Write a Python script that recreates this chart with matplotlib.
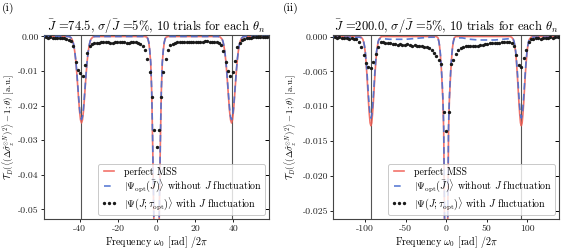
import matplotlib
matplotlib.use("Agg")
import matplotlib.pyplot as plt

plt.rcParams['font.family'] = 'serif'
plt.rcParams['font.serif'] = ['cmr10', 'DejaVu Serif']
plt.rcParams['mathtext.fontset'] = 'cm'
plt.rcParams['axes.unicode_minus'] = False
plt.rcParams['axes.formatter.use_mathtext'] = True

# ---------------- panel (i) data ----------------
title_i = r'$\bar{J}$ =74.5, $\sigma/\bar{J}$ =5%, 10 trials for each $\theta_n$'
vlines_i = [-39, 39]
xlim_i = (-58.5, 58.5)
ylim_i = (-0.0528, 0.0004)
yticks_i = [0.0, -0.01, -0.02, -0.03, -0.04, -0.05]
xticks_i = [-40, -20, 0, 20, 40]

line_x_i = [-58.5,
            -46, -45, -44, -43.5, -43, -42.5, -42, -41.5, -41, -40.5, -40, -39.5, -39,
            -38.5, -38, -37.5, -37, -36.5, -36, -35.5, -35, -34.5, -34, -33, -32,
            -7, -6, -5, -4.5, -4, -3.5, -3, -2.5, -2, -1.5, -1, -0.5, 0,
            0.5, 1, 1.5, 2, 2.5, 3, 3.5, 4, 4.5, 5, 6, 7,
            32, 33, 34, 34.5, 35, 35.5, 36, 36.5, 37, 37.5, 38, 38.5, 39,
            39.5, 40, 40.5, 41, 41.5, 42, 42.5, 43, 43.5, 44, 45, 46,
            58.5]
perfect_i = [0.0,
             0, -0.0001, -0.0007, -0.0014, -0.0026, -0.0044, -0.0069, -0.0102, -0.0141, -0.0181, -0.0217, -0.0241, -0.0250,
             -0.0241, -0.0217, -0.0181, -0.0141, -0.0102, -0.0069, -0.0044, -0.0026, -0.0014, -0.0007, -0.0001, 0,
             0, 0, -0.0002, -0.0007, -0.0018, -0.0042, -0.0078, -0.0160, -0.0310, -0.0490, -0.0680, -0.0840, -0.0900,
             -0.0840, -0.0680, -0.0490, -0.0310, -0.0160, -0.0078, -0.0042, -0.0018, -0.0007, -0.0002, 0, 0,
             0, -0.0001, -0.0007, -0.0014, -0.0026, -0.0044, -0.0069, -0.0102, -0.0141, -0.0181, -0.0217, -0.0241, -0.0250,
             -0.0241, -0.0217, -0.0181, -0.0141, -0.0102, -0.0069, -0.0044, -0.0026, -0.0014, -0.0007, -0.0001, 0,
             0.0]
nofluct_i = [0.0,
             0, -0.0001, -0.0006, -0.0013, -0.0025, -0.0043, -0.0067, -0.0099, -0.0136, -0.0174, -0.0209, -0.0232, -0.0240,
             -0.0232, -0.0209, -0.0174, -0.0136, -0.0099, -0.0067, -0.0043, -0.0025, -0.0013, -0.0006, -0.0001, 0,
             0, 0, -0.0002, -0.0006, -0.0017, -0.0040, -0.0075, -0.0155, -0.0300, -0.0480, -0.0670, -0.0820, -0.0880,
             -0.0820, -0.0670, -0.0480, -0.0300, -0.0155, -0.0075, -0.0040, -0.0017, -0.0006, -0.0002, 0, 0,
             0, -0.0001, -0.0006, -0.0013, -0.0025, -0.0043, -0.0067, -0.0099, -0.0136, -0.0174, -0.0209, -0.0232, -0.0240,
             -0.0232, -0.0209, -0.0174, -0.0136, -0.0099, -0.0067, -0.0043, -0.0025, -0.0013, -0.0006, -0.0001, 0,
             0.0]

dots_x_i = [-57.6, -56.4, -55.2, -54.0, -52.8, -51.6, -50.4, -49.2, -48.0, -46.8,
            -45.6, -44.4, -43.2, -42.0, -40.8, -39.6, -38.4, -37.2, -36.0, -34.8,
            -33.6, -32.4, -31.2, -30.0, -28.8, -27.6, -26.4, -25.2, -24.0, -22.8,
            -21.6, -20.4, -19.2, -18.0, -16.8, -15.6, -14.4, -13.2, -12.0, -10.8,
            -9.6, -8.4, -7.2, -6.0, -4.8, -3.6, -2.4, -1.2, 0.0,
            1.2, 2.4, 3.6, 4.8, 6.0, 7.2, 8.4, 9.6, 10.8, 12.0,
            13.2, 14.4, 15.6, 16.8, 18.0, 19.2, 20.4, 21.6, 22.8, 24.0,
            25.2, 26.4, 27.6, 28.8, 30.0, 31.2, 32.4, 33.6, 34.8, 36.0,
            37.2, 38.4, 39.6, 40.8, 42.0, 43.2, 44.4, 45.6, 46.8, 48.0,
            49.2, 50.4, 51.6, 52.8, 54.0, 55.2, 56.4, 57.6]
dots_y_i = [-0.0002, -0.0003, -0.0002, -0.0003, -0.0003, -0.0004, -0.0003, -0.0004, -0.0005, -0.0006,
            -0.0009, -0.0014, -0.0028, -0.0075, -0.0098, -0.0106, -0.0114, -0.0082, -0.0047, -0.0027,
            -0.0022, -0.0020, -0.0019, -0.0018, -0.0017, -0.0016, -0.0016, -0.0017, -0.0018, -0.0018,
            -0.0017, -0.0016, -0.0016, -0.0016, -0.0017, -0.0018, -0.0018, -0.0017, -0.0016, -0.0017,
            -0.0019, -0.0022, -0.0028, -0.0040, -0.0066, -0.0104, -0.0175, -0.0270, -0.0320,
            -0.0270, -0.0175, -0.0102, -0.0066, -0.0038, -0.0026, -0.0021, -0.0018, -0.0017, -0.0016,
            -0.0016, -0.0017, -0.0017, -0.0016, -0.0015, -0.0015, -0.0016, -0.0017, -0.0016, -0.0015,
            -0.0014, -0.0014, -0.0015, -0.0016, -0.0016, -0.0017, -0.0020, -0.0025, -0.0043, -0.0075,
            -0.0100, -0.0114, -0.0104, -0.0072, -0.0030, -0.0018, -0.0010, -0.0006, -0.0004, -0.0003,
            -0.0003, -0.0002, -0.0002, -0.0002, -0.0001, -0.0002, -0.0002, -0.0001]

# ---------------- panel (ii) data ----------------
title_ii = r'$\bar{J}$ =200.0, $\sigma/\bar{J}$ =5%, 10 trials for each $\theta_n$'
vlines_ii = [-93, 93]
xlim_ii = (-139.5, 139.5)
ylim_ii = (-0.0262, 0.0002)
yticks_ii = [0.0, -0.005, -0.010, -0.015, -0.020, -0.025]
xticks_ii = [-100, -50, 0, 50, 100]

line_x_ii = [-139.5,
             -107, -105, -103, -102, -101, -100, -99, -98, -97, -96, -95, -94, -93,
             -92, -91, -90, -89, -88, -87, -86, -85, -84, -83, -81, -79,
             -70, -60, -50, -40, -30, -20,
             -14, -12, -10, -9, -8, -7, -6, -5, -4, -3, -2, -1, 0,
             1, 2, 3, 4, 5, 6, 7, 8, 9, 10, 12, 14,
             20, 30, 40, 50, 60, 70,
             79, 81, 83, 84, 85, 86, 87, 88, 89, 90, 91, 92, 93,
             94, 95, 96, 97, 98, 99, 100, 101, 102, 103, 105, 107,
             139.5]
perfect_ii = [0.0,
              0, -0.0001, -0.0004, -0.0008, -0.0014, -0.0023, -0.0037, -0.0054, -0.0074, -0.0094, -0.0111, -0.0124, -0.0128,
              -0.0124, -0.0111, -0.0094, -0.0074, -0.0054, -0.0037, -0.0023, -0.0014, -0.0008, -0.0004, -0.0001, 0,
              0, 0, 0, 0, 0, 0,
              0, 0, -0.0002, -0.0007, -0.0015, -0.0028, -0.0045, -0.0067, -0.0092, -0.0135, -0.0265, -0.0420, -0.0500,
              -0.0420, -0.0265, -0.0135, -0.0092, -0.0067, -0.0045, -0.0028, -0.0015, -0.0007, -0.0002, 0, 0,
              0, 0, 0, 0, 0, 0,
              0, -0.0001, -0.0004, -0.0008, -0.0014, -0.0023, -0.0037, -0.0054, -0.0074, -0.0094, -0.0111, -0.0124, -0.0128,
              -0.0124, -0.0111, -0.0094, -0.0074, -0.0054, -0.0037, -0.0023, -0.0014, -0.0008, -0.0004, -0.0001, 0,
              0.0]
nofluct_ii = [-0.0001,
              -0.0001, -0.0002, -0.0004, -0.0007, -0.0013, -0.0021, -0.0034, -0.0049, -0.0067, -0.0085, -0.0101, -0.0113, -0.0117,
              -0.0113, -0.0101, -0.0085, -0.0067, -0.0049, -0.0034, -0.0021, -0.0013, -0.0007, -0.0004, -0.0003, -0.0003,
              -0.0004, -0.0004, -0.0004, -0.0003, -0.0002, -0.0001,
              -0.0001, -0.0001, -0.0003, -0.0007, -0.0014, -0.0026, -0.0042, -0.0063, -0.0088, -0.0128, -0.0250, -0.0400, -0.0480,
              -0.0400, -0.0250, -0.0128, -0.0088, -0.0063, -0.0042, -0.0026, -0.0014, -0.0007, -0.0003, -0.0002, -0.0002,
              -0.0002, -0.0004, -0.0005, -0.0005, -0.0005, -0.0004,
              -0.0003, -0.0003, -0.0004, -0.0007, -0.0013, -0.0021, -0.0034, -0.0049, -0.0067, -0.0085, -0.0101, -0.0113, -0.0117,
              -0.0113, -0.0101, -0.0085, -0.0067, -0.0049, -0.0034, -0.0021, -0.0013, -0.0007, -0.0004, -0.0002, -0.0001,
              -0.0001]

dots_x_ii = [-138, -135, -132, -129, -126, -123, -120, -117, -114, -111,
             -108, -105, -102, -99, -96, -93, -90, -87, -84, -81,
             -78, -75, -72, -69, -66, -63, -60, -57, -54, -51,
             -48, -45, -42, -39, -36, -33, -30, -27, -24, -21,
             -18, -15, -12, -9, -6, -3, 0,
             3, 6, 9, 12, 15, 18, 21, 24, 27, 30,
             33, 36, 39, 42, 45, 48, 51, 54, 57, 60,
             63, 66, 69, 72, 75, 78, 81, 84, 87, 90,
             93, 96, 99, 102, 105, 108, 111, 114, 117, 120,
             123, 126, 129, 132, 135, 138]
dots_y_ii = [-0.0001, -0.0002, -0.0001, -0.0002, -0.0002, -0.0002, -0.0003, -0.0002, -0.0003, -0.0004,
             -0.0008, -0.0015, -0.0027, -0.0038, -0.0044, -0.0045, -0.0037, -0.0025, -0.0015, -0.0008,
             -0.0008, -0.0009, -0.0010, -0.0010, -0.0011, -0.0011, -0.0012, -0.0011, -0.0012, -0.0012,
             -0.0011, -0.0012, -0.0013, -0.0012, -0.0013, -0.0013, -0.0014, -0.0015, -0.0015, -0.0017,
             -0.0019, -0.0023, -0.0028, -0.0033, -0.0040, -0.0108, -0.0136,
             -0.0108, -0.0040, -0.0033, -0.0025, -0.0020, -0.0017, -0.0015, -0.0014, -0.0014, -0.0013,
             -0.0014, -0.0013, -0.0013, -0.0012, -0.0012, -0.0011, -0.0011, -0.0010, -0.0010, -0.0009,
             -0.0009, -0.0009, -0.0008, -0.0008, -0.0008, -0.0008, -0.0009, -0.0013, -0.0027, -0.0041,
             -0.0044, -0.0031, -0.0019, -0.0008, -0.0004, -0.0003, -0.0002, -0.0002, -0.0003, -0.0002,
             -0.0002, -0.0002, -0.0001, -0.0002, -0.0001, -0.0001]

labels = ['perfect MSS',
          r'$|\Psi_{\rm opt}(\bar{J})\rangle$ without $J$ fluctuation',
          r'$|\Psi(J;\tau_{\rm opt})\rangle$ with $J$ fluctuation']
ylabel = r'$\mathcal{T}_D(\langle(\Delta\hat{\sigma}_z^{\otimes N})^2\rangle-1;\theta)$ [a.u.]'
xlabel = r'Frequency $\omega_0$ [rad] $/2\pi$'

RED = '#f05a50'
BLUE = '#4a6fd0'

fig = plt.figure(figsize=(5.64, 2.49), dpi=100)
ax1 = fig.add_axes([0.078, 0.120, 0.399, 0.739])
ax2 = fig.add_axes([0.591, 0.120, 0.400, 0.739])


def draw(ax, lx, py, ny, dx, dy, vl, xl, yl, yt, xt, title, yfmt, ylab_x):
    for v in vl:
        ax.axvline(v, color='#555555', lw=0.8, zorder=1)
    ax.plot(lx, py, color=RED, lw=1.2, alpha=0.85, zorder=2, label=labels[0])
    ax.plot(lx, ny, color=BLUE, lw=1.2, ls=(0, (4, 2.5)), alpha=0.9, zorder=3, label=labels[1])
    ax.plot(dx, dy, ls='none', marker='o', ms=1.4, color='#1a1a1a', zorder=4, label=labels[2])
    ax.set_xlim(*xl)
    ax.set_ylim(*yl)
    ax.set_yticks(yt)
    ax.set_yticklabels([yfmt % v for v in yt])
    ax.set_xticks(xt)
    ax.set_xticklabels(['%d' % v for v in xt])
    ax.tick_params(direction='out', length=2.5, width=0.7, labelsize=7.0, pad=1.2, colors='#222222')
    for s in ax.spines.values():
        s.set_linewidth(0.8)
        s.set_color('#444444')
    sec = ax.secondary_yaxis('right')
    sec.set_yticks(yt)
    sec.tick_params(direction='in', length=3, width=0.7, labelright=False)
    sec.spines['right'].set_visible(False)
    ax.set_title(title, fontsize=9, pad=1.5)
    ax.set_xlabel(xlabel, fontsize=7.2)
    ax.xaxis.set_label_coords(0.5, -0.08)
    ax.set_ylabel(ylabel, fontsize=6.4)
    ax.yaxis.set_label_coords(ylab_x, 0.5)
    leg = ax.legend(loc='lower right', fontsize=7.2, numpoints=3, handlelength=1.6,
                    framealpha=0.8, edgecolor='#bbbbbb', borderpad=0.3,
                    labelspacing=0.1, handletextpad=0.7, borderaxespad=0.4)
    leg.get_frame().set_linewidth(0.7)


draw(ax1, line_x_i, perfect_i, nofluct_i, dots_x_i, dots_y_i, vlines_i, xlim_i, ylim_i,
     yticks_i, xticks_i, title_i, '%.2f', -0.118)
draw(ax2, line_x_ii, perfect_ii, nofluct_ii, dots_x_ii, dots_y_ii, vlines_ii, xlim_ii, ylim_ii,
     yticks_ii, xticks_ii, title_ii, '%.3f', -0.15)

fig.text(0.004, 0.955, '(i)', fontsize=8.5)
fig.text(0.501, 0.955, '(ii)', fontsize=8.5)

fig.savefig('out.png', dpi=100)
